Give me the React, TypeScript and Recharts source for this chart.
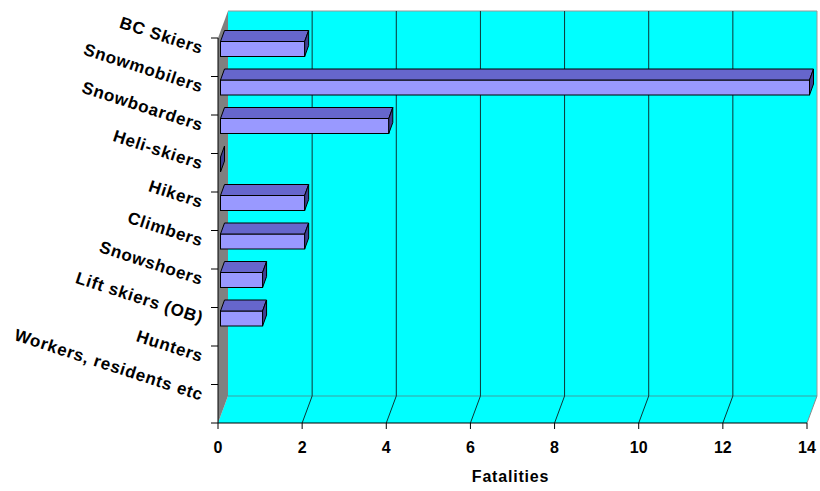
import React from 'react';
import { BarChart, Bar, XAxis, YAxis, CartesianGrid } from 'recharts';

const categories = [
  'BC Skiers',
  'Snowmobilers',
  'Snowboarders',
  'Heli-skiers',
  'Hikers',
  'Climbers',
  'Snowshoers',
  'Lift skiers (OB)',
  'Hunters',
  'Workers, residents etc',
];
const fatalities: (number | null)[] = [2, 14, 4, 0, 2, 2, 1, 1, null, null];
const xTicks = [0, 2, 4, 6, 8, 10, 12, 14];
const xAxisTitle = 'Fatalities';

const data = categories.map((name, i) => ({ name, value: fatalities[i] }));

const W = 820;
const H = 491;
const MARGIN = { top: 38, right: 13, bottom: 0, left: 0 };
const Y_AXIS_W = 218;
const X_AXIS_H = 68;
const PL = MARGIN.left + Y_AXIS_W; // plot left
const PR = W - MARGIN.right; // plot right
const PT = MARGIN.top; // plot top
const PB = H - MARGIN.bottom - X_AXIS_H; // plot bottom
const BAND = (PB - PT) / categories.length;
const DX = 10; // wall depth offset
const DY = -27;
const BDX = 4; // bar depth offset
const BDY = -11;
const BAR_SHIFT_X = 2.5;
const BAR_SHIFT_Y = -8.5;

const FONT = '"Liberation Sans", Arial, Helvetica, sans-serif';
const CYAN = '#00FFFF';

const Walls = () => (
  <svg width={W} height={H} style={{ position: 'absolute', left: 0, top: 0 }}>
    {/* back wall */}
    <rect x={PL + DX} y={PT + DY} width={PR - PL} height={PB - PT} fill={CYAN} />
    <polyline
      points={`${PL + DX},${PT + DY} ${PR + DX},${PT + DY} ${PR + DX},${PB + DY}`}
      fill="none"
      stroke="#9a9a9a"
      strokeWidth={1}
    />
    {/* floor */}
    <polygon
      points={`${PL},${PB} ${PR},${PB} ${PR + DX},${PB + DY} ${PL + DX},${PB + DY}`}
      fill={CYAN}
    />
    <line x1={PL + DX} y1={PB + DY} x2={PR + DX} y2={PB + DY} stroke="#3f9f9f" strokeWidth={1} />
    <line x1={PR} y1={PB} x2={PR + DX} y2={PB + DY} stroke="#8a8a8a" strokeWidth={1} />
    {/* left wall */}
    <polygon
      points={`${PL},${PT} ${PL + DX},${PT + DY} ${PL + DX},${PB + DY} ${PL},${PB}`}
      fill="#808080"
    />
  </svg>
);

const GridLine = (props: any) => {
  const { x1, y1, y2 } = props;
  if (x1 <= PL + 1 || x1 >= PR - 1) return <g />;
  return (
    <g>
      <line x1={x1 + DX} y1={y1 + DY} x2={x1 + DX} y2={y2 + DY} stroke="#0d3535" strokeWidth={1} />
      <line x1={x1} y1={y2} x2={x1 + DX} y2={y2 + DY} stroke="#0d3535" strokeWidth={1} />
    </g>
  );
};

const BarShape = (props: any) => {
  const { x, y, width, height, payload } = props;
  if (!payload || payload.value === null || payload.value === undefined) return <g />;
  const fx = x + BAR_SHIFT_X;
  const fy = y + BAR_SHIFT_Y;
  const w = Math.max(0, width);
  const h = height;
  const top = `${fx},${fy} ${fx + w},${fy} ${fx + w + BDX},${fy + BDY} ${fx + BDX},${fy + BDY}`;
  const side = `${fx + w},${fy} ${fx + w + BDX},${fy + BDY} ${fx + w + BDX},${fy + h + BDY} ${fx + w},${fy + h}`;
  return (
    <g>
      {w > 0 && <rect x={fx} y={fy} width={w} height={h} fill="#9999FF" stroke="#000" strokeWidth={1} />}
      {w > 0 && <polygon points={top} fill="#6666CC" stroke="#000" strokeWidth={1} />}
      <polygon points={side} fill="#3f3f8f" stroke="#000" strokeWidth={1} />
    </g>
  );
};

const YTick = (props: any) => {
  const { y, payload, index } = props;
  const ax = 201;
  const ay = y - 3;
  return (
    <g>
      <line x1={PL - 7} y1={y - BAND / 2} x2={PL} y2={y - BAND / 2} stroke="#000" />
      {index === categories.length - 1 && (
        <line x1={PL - 7} y1={y + BAND / 2} x2={PL} y2={y + BAND / 2} stroke="#000" />
      )}
      <text
        x={ax}
        y={ay}
        textAnchor="end"
        transform={`rotate(18, ${ax}, ${ay})`}
        fontFamily={FONT}
        fontWeight="bold"
        fontSize={17}
        letterSpacing={0.7}
        fill="#000"
      >
        {payload.value}
      </text>
    </g>
  );
};

const XTick = (props: any) => {
  const { x, payload } = props;
  return (
    <g>
      <line x1={x} y1={PB} x2={x} y2={PB + 6} stroke="#000" />
      <text
        x={x}
        y={PB + 30}
        textAnchor="middle"
        fontFamily={FONT}
        fontWeight="bold"
        fontSize={16}
        fill="#000"
      >
        {payload.value}
      </text>
    </g>
  );
};

const XTitle = (props: any) => {
  const vb = props.viewBox || { x: PL, width: PR - PL };
  return (
    <text
      x={vb.x + vb.width / 2 - 2}
      y={481.5}
      textAnchor="middle"
      fontFamily={FONT}
      fontWeight="bold"
      fontSize={16}
      letterSpacing={0.8}
      fill="#000"
    >
      {xAxisTitle}
    </text>
  );
};

export default function App() {
  return (
    <div
      style={{
        position: 'fixed',
        left: 0,
        top: 0,
        width: W,
        height: H,
        background: '#fff',
      }}
    >
      <Walls />
      <div style={{ position: 'absolute', left: 0, top: 0 }}>
        <BarChart
          width={W}
          height={H}
          data={data}
          layout="vertical"
          margin={MARGIN}
          barCategoryGap={0}
        >
          <CartesianGrid horizontal={false} vertical={GridLine} stroke="none" fill="none" />
          <XAxis
            type="number"
            domain={[0, 14]}
            ticks={xTicks}
            interval={0}
            height={X_AXIS_H}
            axisLine={{ stroke: '#000', strokeWidth: 1 }}
            tickLine={false}
            tick={XTick}
            label={<XTitle />}
          />
          <YAxis
            type="category"
            dataKey="name"
            width={Y_AXIS_W}
            axisLine={{ stroke: '#000', strokeWidth: 1 }}
            tickLine={false}
            tick={YTick}
            interval={0}
          />
          <Bar dataKey="value" barSize={15} shape={BarShape} isAnimationActive={false} />
        </BarChart>
      </div>
    </div>
  );
}
